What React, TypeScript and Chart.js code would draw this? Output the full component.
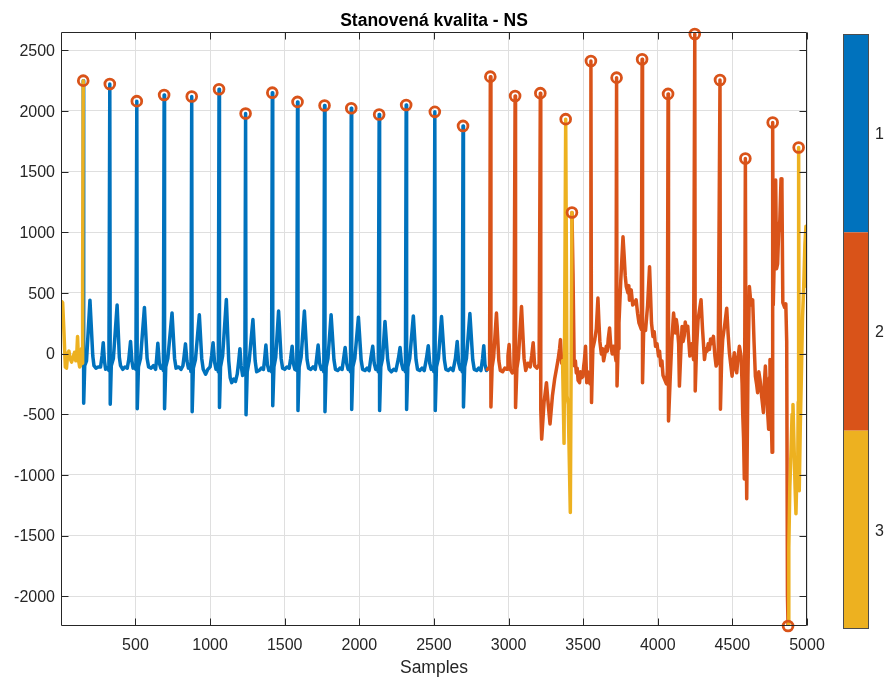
import React, { useEffect, useRef } from "react";
import { Chart, registerables } from "chart.js";

Chart.register(...registerables);

// ---- data ----
const titleText = "Stanovená kvalita - NS";
const xLabelText = "Samples";
const xTicks = [500, 1000, 1500, 2000, 2500, 3000, 3500, 4000, 4500, 5000];
const yTicks = [-2000, -1500, -1000, -500, 0, 500, 1000, 1500, 2000, 2500];
const xRange = [1, 5000];
const yRange = [-2245, 2650];

const classLabels = ["1", "2", "3"];
const classColors = ["#0072BD", "#D95319", "#EDB120"];

// detected R-peaks (sample, amplitude)
const peakSamples = [150, 328, 509, 692, 877, 1060, 1238, 1417, 1586, 1767, 1946, 2133, 2314, 2506, 2695, 2878, 3044, 3213, 3383, 3425, 3552, 3724, 3895, 4069, 4248, 4417, 4587, 4770, 4873, 4944];
const peakValues = [2249, 2222, 2080, 2131, 2118, 2178, 1978, 2150, 2074, 2044, 2022, 1970, 2049, 1992, 1876, 2282, 2123, 2146, 1932, 1163, 2411, 2274, 2425, 2140, 2634, 2255, 1607, 1904, -2245, 1698];

// signal segments [sample, value], coloured by quality class
const segYellowStart: [number, number][] = [[1,310],[5,430],[12,420],[20,200],[30,-110],[38,-120],[46,0],[54,20],[62,-40],[72,-70],[82,-30],[92,10],[100,-60],[106,-20],[112,140],[118,-50],[126,-110],[132,-100],[138,40],[143,-80],[146,600],[150,2249]];

const segBlue: [number, number][] = [
[150,2249],[153,-410],[160,-100],[172,-60],[195,440],[214,-20],[222,-100],[235,-120],[250,-110],[266,-110],[276,-20],[284,90],[292,-60],[300,-130],[312,-115],[322,-140],[328,2222],
[331,-418],[338,-100],[352,-40],[377,400],[392,-30],[400,-100],[415,-130],[430,-110],[445,-120],[455,-50],[467,100],[476,-60],[484,-120],[494,-110],[503,-130],[509,2080],
[512,-455],[520,-110],[534,-40],[560,380],[578,-40],[588,-110],[605,-120],[620,-100],[635,-130],[642,-40],[650,85],[660,-80],[670,-120],[680,-110],[687,-140],[692,2131],
[695,-455],[703,-110],[717,-40],[745,335],[762,-40],[772,-120],[790,-110],[805,-130],[818,-100],[826,-20],[835,80],[845,-60],[855,-120],[866,-110],[872,-150],[877,2118],
[880,-480],[888,-120],[902,-50],[928,320],[944,-40],[954,-130],[970,-170],[985,-130],[1000,-110],[1010,-20],[1020,90],[1030,-70],[1040,-130],[1050,-110],[1055,-150],[1060,2178],
[1063,-445],[1070,-110],[1084,-20],[1109,445],[1125,-60],[1135,-200],[1145,-240],[1158,-210],[1170,-230],[1182,-170],[1192,-60],[1200,40],[1208,-100],[1218,-180],[1228,-150],[1233,-170],[1238,1978],
[1241,-505],[1249,-150],[1262,-60],[1287,280],[1302,-60],[1312,-150],[1328,-140],[1343,-120],[1358,-130],[1366,-40],[1374,70],[1384,-90],[1394,-140],[1405,-120],[1412,-150],[1417,2150],
[1420,-430],[1428,-110],[1440,-30],[1459,350],[1476,-40],[1486,-120],[1500,-130],[1515,-110],[1530,-120],[1540,-40],[1550,60],[1558,-80],[1568,-130],[1576,-110],[1581,-140],[1586,2074],
[1589,-470],[1597,-110],[1610,-30],[1632,350],[1650,-50],[1660,-120],[1675,-130],[1690,-110],[1705,-130],[1714,-40],[1724,70],[1734,-80],[1745,-130],[1755,-110],[1762,-150],[1767,2044],
[1770,-480],[1778,-110],[1790,-40],[1811,320],[1830,-50],[1840,-130],[1855,-140],[1870,-120],[1885,-130],[1895,-40],[1905,50],[1915,-80],[1925,-130],[1935,-120],[1941,-150],[1946,2022],
[1949,-460],[1957,-110],[1970,-40],[1994,300],[2012,-50],[2022,-130],[2038,-140],[2052,-120],[2066,-140],[2078,-30],[2090,60],[2100,-80],[2110,-130],[2120,-120],[2127,-150],[2133,1970],
[2136,-470],[2144,-110],[2156,-40],[2172,265],[2190,-50],[2200,-130],[2215,-150],[2230,-130],[2245,-140],[2262,-40],[2273,50],[2283,-80],[2293,-130],[2302,-120],[2309,-150],[2314,2049],
[2317,-460],[2325,-110],[2338,-40],[2362,310],[2380,-50],[2390,-130],[2405,-140],[2420,-120],[2435,-140],[2450,-40],[2462,65],[2472,-80],[2482,-130],[2494,-120],[2500,-150],[2506,1992],
[2509,-470],[2517,-110],[2530,-40],[2551,305],[2570,-50],[2580,-130],[2596,-140],[2612,-120],[2628,-140],[2644,-40],[2656,100],[2666,-80],[2676,-130],[2684,-120],[2690,-150],[2695,1876],
[2698,-440],[2706,-110],[2718,-40],[2741,330],[2760,-50],[2770,-130],[2786,-140],[2800,-120],[2815,-140],[2826,-40],[2834,65],[2842,-90],[2852,-140],[2858,-130]
];

const segOrangeA: [number, number][] = [[2858,-130],[2873,-110],[2878,2282],[2882,-440],[2890,-110],[2900,-30],[2919,334],[2935,-60],[2945,-140],[2960,-150],[2975,-120],[2990,-130],[2996,-20],[3004,75],[3012,-130],[3025,-160],[3036,-140],[3044,2123],[3047,-445],[3056,-120],[3066,-40],[3087,388],[3104,-40],[3115,-140],[3130,-80],[3145,-110],[3155,-20],[3165,90],[3175,-100],[3190,-120],[3205,-90],[3213,2146],[3216,-460],[3222,-705],[3238,-400],[3254,-240],[3266,-420],[3278,-580],[3294,-350],[3309,-210],[3322,-120],[3332,-50],[3342,40],[3348,115],[3356,-80],[3362,-60]];

const segYellowMid: [number, number][] = [[3362,-60],[3372,-740],[3383,1932],[3392,-350],[3400,-420],[3414,-1310],[3425,1163]];

const segOrangeB: [number, number][] = [[3425,1163],[3432,660],[3440,-100],[3448,-60],[3454,-160],[3460,-120],[3466,-220],[3476,-240],[3482,-150],[3488,-200],[3498,-190],[3504,-100],[3508,-60],[3516,60],[3524,-240],[3530,-150],[3536,-200],[3546,-250],[3552,2411],[3556,-404],[3565,40],[3578,115],[3588,200],[3599,457],[3606,250],[3612,100],[3622,-4],[3630,40],[3637,-60],[3646,0],[3655,60],[3662,20],[3668,120],[3677,211],[3684,80],[3695,-4],[3704,60],[3711,20],[3720,-60],[3724,2274],[3727,-267],[3734,40],[3740,250],[3752,600],[3767,962],[3775,800],[3782,640],[3789,552],[3800,500],[3806,560],[3810,440],[3822,525],[3832,400],[3845,416],[3855,443],[3865,330],[3874,252],[3890,200],[3895,2425],[3898,-240],[3906,220],[3918,190],[3932,400],[3945,716],[3952,470],[3958,252],[3968,140],[3976,180],[3985,60],[3995,80],[4005,-20],[4012,20],[4020,-100],[4028,-60],[4035,-180],[4045,-210],[4058,-250],[4064,-150],[4069,2140],[4072,-555],[4083,-213],[4094,100],[4106,334],[4112,250],[4118,170],[4124,280],[4130,230],[4140,80],[4145,-268],[4156,60],[4163,224],[4170,100],[4178,150],[4184,260],[4190,200],[4201,224],[4208,100],[4215,-20],[4228,80],[4240,-50],[4248,2634],[4251,-309],[4260,50],[4270,279],[4282,380],[4290,443],[4300,200],[4313,-49],[4322,40],[4330,20],[4338,80],[4346,33],[4354,120],[4360,80],[4373,142],[4383,-20],[4391,-103],[4405,-60],[4417,2255],[4420,-459],[4428,-50],[4435,115],[4450,250],[4462,374],[4472,150],[4480,6],[4490,-100],[4498,-186],[4506,-60],[4513,6],[4521,-120],[4529,-158],[4538,-30],[4547,60],[4558,-20],[4565,-250],[4569,-486],[4575,-700],[4580,-1033],[4587,1607],[4592,-600],[4596,-1197],[4604,-200],[4614,552],[4625,400],[4636,443],[4645,100],[4654,-186],[4662,-250],[4669,-322],[4677,-150],[4685,-213],[4696,-350],[4708,-486],[4714,-250],[4721,-103],[4730,-350],[4737,-500],[4743,-623],[4748,-200],[4752,-49],[4758,-400],[4766,-814],[4770,1904],[4774,400],[4780,750],[4790,1430],[4796,700],[4803,740],[4810,1000],[4818,1100],[4826,1440],[4832,1380],[4838,420],[4850,380],[4858,410],[4864,100],[4869,-1990],[4873,-2245]];

const segYellowEnd: [number, number][] = [[4873,-2245],[4878,-1600],[4885,-1100],[4893,-800],[4900,-500],[4906,-420],[4912,-700],[4920,-1100],[4926,-1320],[4932,-1000],[4937,-1110],[4941,-400],[4944,1698],[4948,-1130],[4955,-600],[4962,-200],[4970,300],[4978,550],[4986,900],[4993,1050],[4997,800],[5000,550]];

const FONT = "'Liberation Sans', Arial, Helvetica, sans-serif";
const AXIS = "#262626";

export default function App() {
  const ref = useRef<HTMLCanvasElement>(null);

  useEffect(() => {
    const canvas = ref.current;
    if (!canvas) return;
    const toXY = (pts: [number, number][]) => pts.map(([x, y]) => ({ x, y }));

    const framePlugin = {
      id: "frame",
      afterDraw(chart: any) {
        const { ctx, chartArea: a, scales } = chart;
        const xs = scales.x;
        const ys = scales.y;
        const L = Math.round(a.left) + 0.5;
        const R = Math.round(a.right) - 0.5;
        const T = Math.round(a.top) + 0.5;
        const B = Math.round(a.bottom) - 0.5;
        ctx.save();
        ctx.strokeStyle = AXIS;
        ctx.lineWidth = 1;
        ctx.beginPath();
        ctx.rect(L, T, R - L, B - T);
        ctx.stroke();
        // inward tick marks
        const tl = 7;
        ctx.beginPath();
        xTicks.forEach((v) => {
          const px = Math.round(xs.getPixelForValue(v)) + 0.5;
          ctx.moveTo(px, B); ctx.lineTo(px, B - tl);
          ctx.moveTo(px, T); ctx.lineTo(px, T + tl);
        });
        yTicks.forEach((v) => {
          const py = Math.round(ys.getPixelForValue(v)) + 0.5;
          ctx.moveTo(L, py); ctx.lineTo(L + tl, py);
          ctx.moveTo(R, py); ctx.lineTo(R - tl, py);
        });
        ctx.stroke();
        // tick labels
        ctx.fillStyle = AXIS;
        ctx.font = `16px ${FONT}`;
        ctx.textBaseline = "alphabetic";
        ctx.textAlign = "center";
        xTicks.forEach((v) => {
          ctx.fillText(String(v), xs.getPixelForValue(v), a.bottom + 23.5);
        });
        ctx.textAlign = "right";
        yTicks.forEach((v) => {
          ctx.fillText(String(v), a.left - 6, ys.getPixelForValue(v) + 5.8);
        });
        // axis label
        ctx.font = `17.5px ${FONT}`;
        ctx.textAlign = "center";
        ctx.fillText(xLabelText, (a.left + a.right) / 2, 673);
        // title
        ctx.fillStyle = "#000";
        ctx.font = `bold 17.5px ${FONT}`;
        ctx.fillText(titleText, (a.left + a.right) / 2, 26);
        // colorbar
        const cbL = 843, cbR = 869, cbT = 34, cbB = 629;
        const h = (cbB - cbT) / classColors.length;
        classColors.forEach((c, i) => {
          ctx.fillStyle = c;
          ctx.fillRect(cbL, cbT + i * h, cbR - cbL, h);
        });
        ctx.strokeStyle = "#4d4d4d";
        ctx.lineWidth = 1;
        ctx.strokeRect(cbL + 0.5, cbT + 0.5, cbR - cbL - 1, cbB - cbT - 1);
        ctx.fillStyle = AXIS;
        ctx.font = `16px ${FONT}`;
        ctx.textAlign = "left";
        classLabels.forEach((lab, i) => {
          ctx.fillText(lab, 875, cbT + (i + 0.5) * h + 5.8);
        });
        ctx.restore();
      },
    };

    const lineDs = (pts: [number, number][], color: string, order: number) => ({
      type: "line" as const,
      data: toXY(pts),
      borderColor: color,
      backgroundColor: color,
      borderWidth: 3.5,
      pointRadius: 0,
      tension: 0,
      fill: false,
      borderJoinStyle: "round" as const,
      borderCapStyle: "round" as const,
      order,
    });

    const chart = new Chart(canvas, {
      type: "line",
      data: {
        datasets: [
          {
            type: "line",
            data: peakSamples.map((x, i) => ({ x, y: peakValues[i] })),
            showLine: false,
            pointRadius: 4.9,
            pointHoverRadius: 4.9,
            pointBorderWidth: 2.8,
            pointBorderColor: classColors[1],
            pointBackgroundColor: "rgba(0,0,0,0)",
            borderColor: classColors[1],
            clip: false,
            order: 0,
          } as any,
          lineDs(segYellowStart, classColors[2], 1),
          lineDs(segYellowMid, classColors[2], 1),
          lineDs(segYellowEnd, classColors[2], 1),
          lineDs(segOrangeA, classColors[1], 2),
          lineDs(segOrangeB, classColors[1], 2),
          lineDs(segBlue, classColors[0], 3),
        ],
      },
      options: {
        responsive: false,
        animation: false,
        devicePixelRatio: 1,
        events: [],
        layout: { padding: { left: 0, right: 77, top: 32, bottom: 0 } },
        plugins: { legend: { display: false }, tooltip: { enabled: false }, title: { display: false } },
        scales: {
          x: {
            type: "linear",
            min: xRange[0],
            max: xRange[1],
            afterBuildTicks: (s: any) => { s.ticks = xTicks.map((v) => ({ value: v })); },
            afterFit: (s: any) => { s.height = 55; },
            ticks: { display: false },
            grid: { color: "#dfdfdf", lineWidth: 1, drawTicks: false },
            border: { display: false },
          },
          y: {
            type: "linear",
            min: yRange[0],
            max: yRange[1],
            afterBuildTicks: (s: any) => { s.ticks = yTicks.map((v) => ({ value: v })); },
            afterFit: (s: any) => { s.width = 61; },
            ticks: { display: false },
            grid: { color: "#dfdfdf", lineWidth: 1, drawTicks: false },
            border: { display: false },
          },
        },
      },
      plugins: [framePlugin],
    });

    return () => chart.destroy();
  }, []);

  return (
    <div style={{ position: "absolute", left: 0, top: 0, width: 884, height: 681, background: "#fff" }}>
      <canvas ref={ref} width={884} height={681} style={{ display: "block", width: 884, height: 681 }} />
    </div>
  );
}
